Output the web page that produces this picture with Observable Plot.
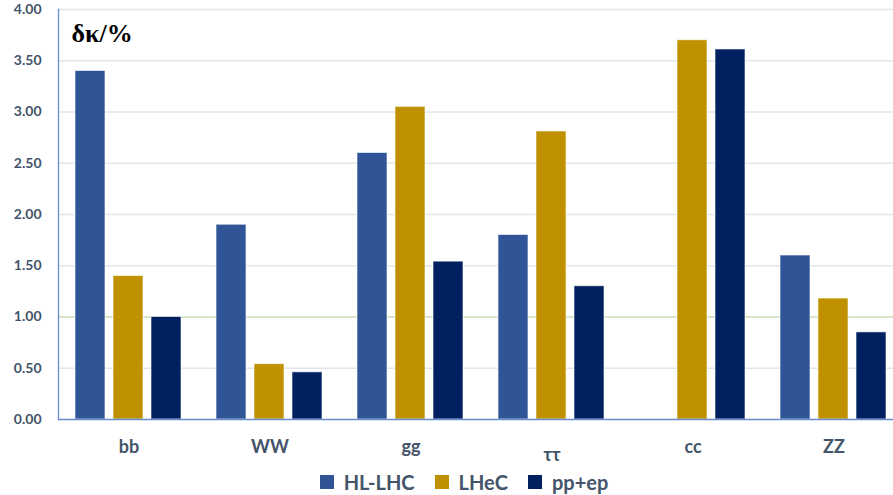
<!DOCTYPE html>
<html><head><meta charset="utf-8">
<script src="https://cdn.jsdelivr.net/npm/d3@7"></script>
<script src="https://cdn.jsdelivr.net/npm/@observablehq/plot@0.6"></script>
<style>
body{margin:0;background:#fff;overflow:hidden;font-family:Lato,sans-serif}
</style></head><body><div id="chart"></div><div id="legend"></div>
<script>
const channels = ["bb", "WW", "gg", "ττ", "cc", "ZZ"];
const series = ["HL-LHC", "LHeC", "pp+ep"];
const hlLhc = [3.40, 1.90, 2.60, 1.80, null, 1.60];
const lhec  = [1.40, 0.54, 3.05, 2.81, 3.70, 1.18];
const ppEp  = [1.00, 0.46, 1.54, 1.30, 3.61, 0.85];
const yTicks = [0, 0.5, 1, 1.5, 2, 2.5, 3, 3.5, 4];
const colors = ["#2f5597", "#bf9000", "#002060"];
const title = "δκ/%";

const valuesBySeries = [hlLhc, lhec, ppEp];
const data = [];
channels.forEach((c, i) => series.forEach((s, j) => {
  const v = valuesBySeries[j][i];
  if (v != null) data.push({channel: c, series: s, value: v});
}));

const textColor = "#44546a";
const axisColor = "#6a8cca";
const labelStyle = {fx: d => d, text: d => d, frameAnchor: "bottom", lineAnchor: "top", fontSize: 18, fontWeight: "bold", fill: textColor};

const chart = Plot.plot({
  width: 893, height: 465,
  marginLeft: 57, marginRight: -12, marginTop: 9, marginBottom: 46,
  style: {fontFamily: "Lato, sans-serif", background: "white"},
  fx: {domain: channels, padding: 0, axis: null, label: null},
  x: {domain: series, paddingInner: 0.2, paddingOuter: 0.42, axis: null},
  y: {domain: [0, 4], axis: null},
  color: {domain: series, range: colors},
  marks: [
    Plot.ruleY(yTicks.filter(v => v !== 0 && v !== 1), {stroke: "#e1e5ee", strokeWidth: 1.3}),
    Plot.ruleY([1], {stroke: "#c8deb6", strokeWidth: 1.3}),
    Plot.barY(data, {fx: "channel", x: "series", y: "value", fill: "series", stroke: "white", strokeOpacity: 0.6, strokeWidth: 1}),
    Plot.ruleY([0], {stroke: axisColor, strokeWidth: 1.3}),
    Plot.frame({anchor: "left", stroke: axisColor, strokeWidth: 1.3, facet: "super"}),
    Plot.axisY(yTicks, {anchor: "left", tickSize: 0, tickPadding: 17, tickFormat: d3.format(".2f"), fontSize: 14, fontWeight: "bold", color: textColor, label: null}),
    Plot.text(channels.filter(c => c !== "ττ"), {...labelStyle, dy: 21}),
    Plot.text(["ττ"], {...labelStyle, dy: 29}),
    Plot.text([title], {facet: "super", frameAnchor: "top-left", textAnchor: "start", lineAnchor: "bottom", dx: 13, dy: 32, fontSize: 26, fontWeight: "bold", fontFamily: "Liberation Serif, serif", fill: "black"})
  ]
});
document.getElementById("chart").appendChild(chart);

const legend = Plot.legend({
  color: {domain: series, range: colors},
  legend: "swatches",
  swatchSize: 14,
  style: {fontFamily: "Lato, sans-serif", fontSize: "20px", fontWeight: "bold", color: textColor, justifyContent: "center", paddingLeft: "55px", margin: "0"}
});
document.getElementById("legend").appendChild(legend);
</script></body></html>
